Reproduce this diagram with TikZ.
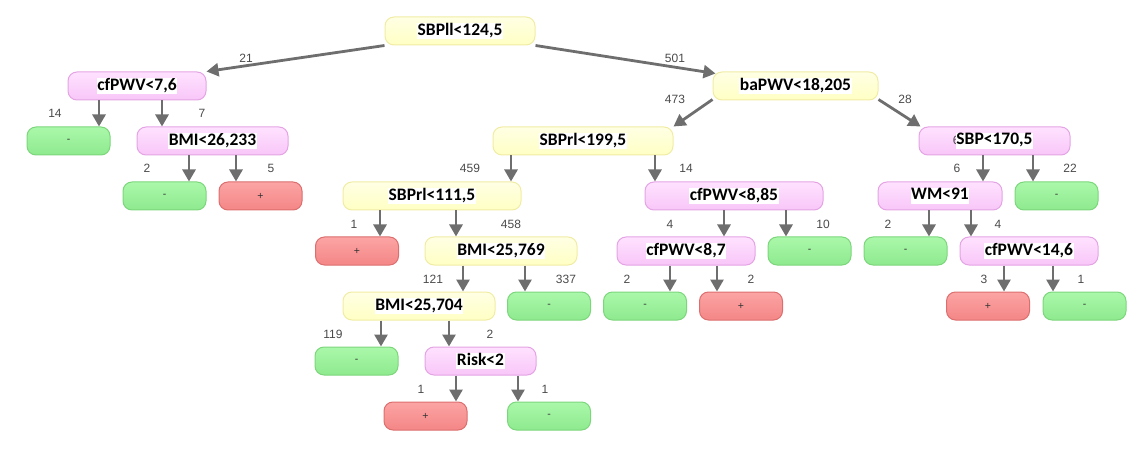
\documentclass[tikz,border=0pt]{standalone}
\usepackage{fontspec}
\usetikzlibrary{arrows.meta}
\newfontfamily\boxfont{Carlito}
\newfontfamily\labfont{Liberation Sans}
\definecolor{ytop}{HTML}{FFFFE4}
\definecolor{ybot}{HTML}{FFFFC4}
\definecolor{ybord}{HTML}{F0ECA4}
\definecolor{ptop}{HTML}{FFE2FF}
\definecolor{pbot}{HTML}{F8C6F8}
\definecolor{pbord}{HTML}{E4A4E4}
\definecolor{gtop}{HTML}{AAF8AA}
\definecolor{gbot}{HTML}{8EEA8E}
\definecolor{gbord}{HTML}{7CD67C}
\definecolor{rtop}{HTML}{FCA4A4}
\definecolor{rbot}{HTML}{F48686}
\definecolor{rbord}{HTML}{DC6E6E}
\definecolor{arrgray}{HTML}{6E6E6E}
\definecolor{labgray}{HTML}{4A4A4A}
\newcommand\wtext[1]{{\setlength{\fboxsep}{0.5pt}\colorbox{white}{\rule[-3.5pt]{0pt}{15pt}\boxfont\bfseries\fontsize{17.5}{18}\selectfont #1}}}
\newcommand\hid[1]{\makebox[0pt][r]{\labfont\fontsize{12}{13}\selectfont\color{labgray}#1\hspace{-3.5pt}}}
\tikzset{
  box/.style={rounded corners=9pt, minimum height=28pt, inner sep=0pt, line width=1pt, shading angle=0},
  ybox/.style={box, draw=ybord, top color=ytop, bottom color=ybot},
  pbox/.style={box, draw=pbord, top color=ptop, bottom color=pbot},
  gleaf/.style={box, draw=gbord, top color=gtop, bottom color=gbot, minimum width=83pt, font=\labfont\fontsize{10.5}{11}\selectfont, text=black!80},
  rleaf/.style={box, draw=rbord, top color=rtop, bottom color=rbot, minimum width=83pt, font=\labfont\fontsize{10.5}{11}\selectfont, text=black!80},
  lab/.style={font=\labfont\fontsize{12}{13}\selectfont, text=labgray, inner sep=0pt},
  arr/.style={draw=arrgray, line width=2.8pt, -{Triangle[length=12pt,width=13pt]}}
}
\begin{document}
\begin{tikzpicture}[x=1pt,y=-1pt]
\useasboundingbox (0,0) rectangle (1135,449);
% row 1
\node[ybox, minimum width=150pt] (root) at (460,31) {\wtext{SBPll<124,5}};
% row 2
\node[pbox, minimum width=138pt] (n1) at (137,86) {\wtext{cfPWV<7,6}};
\node[ybox, minimum width=165pt] (n2) at (795.5,86) {\wtext{baPWV<18,205}};
% row 3
\node[gleaf] (l1) at (68.5,141) {-};
\node[pbox, minimum width=151pt] (n3) at (212.5,141) {\wtext{BMI<26,233}};
\node[ybox, minimum width=180pt] (n4) at (583,141) {\wtext{SBPrl<199,5}};
\node[pbox, minimum width=151pt] (n5) at (994.5,141) {\hid{6}\wtext{SBP<170,5}};
% row 4
\node[gleaf] (l2) at (164.5,196) {-};
\node[rleaf] (l3) at (260.5,196) {+};
\node[ybox, minimum width=178pt] (n6) at (432,196) {\wtext{SBPrl<111,5}};
\node[pbox, minimum width=178pt] (n7) at (734,196) {\wtext{cfPWV<8,85}};
\node[pbox, minimum width=124pt] (n8) at (940,196) {\wtext{WM<91}};
\node[gleaf] (l4) at (1056.5,196) {-};
% row 5
\node[rleaf] (l5) at (357,251) {+};
\node[ybox, minimum width=152pt] (n9) at (501,251) {\wtext{BMI<25,769}};
\node[pbox, minimum width=138pt] (n10) at (686,251) {\wtext{cfPWV<8,7}};
\node[gleaf] (l6) at (809.5,251) {-};
\node[gleaf] (l7) at (905.5,251) {-};
\node[pbox, minimum width=138pt] (n11) at (1029,251) {\wtext{cfPWV<14,6}};
% row 6
\node[ybox, minimum width=152pt] (n12) at (419,306) {\wtext{BMI<25,704}};
\node[gleaf] (l8) at (549,306) {-};
\node[gleaf] (l9) at (645,306) {-};
\node[rleaf] (l10) at (741,306) {+};
\node[rleaf] (l11) at (988,306) {+};
\node[gleaf] (l12) at (1084.5,306) {-};
% row 7
\node[gleaf] (l13) at (356.5,361) {-};
\node[pbox, minimum width=111pt] (n13) at (480.5,361) {\wtext{Risk<2}};
% row 8
\node[rleaf] (l14) at (425.5,416) {+};
\node[gleaf] (l15) at (549,416) {-};

% diagonal connectors
\draw[arr] (root.south west) -- (n1.north east);
\draw[arr] (root.south east) -- ([xshift=3pt,yshift=-2pt]n2.north west);
\draw[arr] ([yshift=1pt]n2.south west) -- (n4.north east);
\draw[arr] ([yshift=1pt]n2.south east) -- ([xshift=2pt]n5.north west);
% vertical connectors
\draw[arr] (n1.south -| 99,0) -- (l1.north -| 99,0);
\draw[arr] (n1.south -| 162,0) -- (n3.north -| 162,0);
\draw[arr] (n3.south -| 189,0) -- (l2.north -| 189,0);
\draw[arr] (n3.south -| 236,0) -- (l3.north -| 236,0);
\draw[arr] (n4.south -| 511,0) -- (n6.north -| 511,0);
\draw[arr] (n4.south -| 655,0) -- (n7.north -| 655,0);
\draw[arr] (n5.south -| 983,0) -- (n8.north -| 983,0);
\draw[arr] (n5.south -| 1033,0) -- (l4.north -| 1033,0);
\draw[arr] (n6.south -| 380,0) -- (l5.north -| 380,0);
\draw[arr] (n6.south -| 456,0) -- (n9.north -| 456,0);
\draw[arr] (n7.south -| 724,0) -- (n10.north -| 724,0);
\draw[arr] (n7.south -| 786,0) -- (l6.north -| 786,0);
\draw[arr] (n8.south -| 929,0) -- (l7.north -| 929,0);
\draw[arr] (n8.south -| 971,0) -- (n11.north -| 971,0);
\draw[arr] (n9.south -| 463,0) -- (n12.north -| 463,0);
\draw[arr] (n9.south -| 525,0) -- (l8.north -| 525,0);
\draw[arr] (n10.south -| 670,0) -- (l9.north -| 670,0);
\draw[arr] (n10.south -| 717,0) -- (l10.north -| 717,0);
\draw[arr] (n11.south -| 1004,0) -- (l11.north -| 1004,0);
\draw[arr] (n11.south -| 1053,0) -- (l12.north -| 1053,0);
\draw[arr] (n12.south -| 381,0) -- (l13.north -| 381,0);
\draw[arr] (n12.south -| 449,0) -- (n13.north -| 449,0);
\draw[arr] (n13.south -| 456,0) -- (l14.north -| 456,0);
\draw[arr] (n13.south -| 518,0) -- (l15.north -| 518,0);

% counts
\node[lab] (c1) at (246,58) {21};
\node[lab] (c2) at (675,58) {501};
\node[lab] (c3) at (675,99) {473};
\node[lab] (c4) at (905,99) {28};
\node[lab] (c5) at (55,113) {14};
\node[lab] (c6) at (202,113) {7};
\node[lab] (c7) at (147,168) {2};
\node[lab] (c8) at (271,168) {5};
\node[lab] (c9) at (470,168) {459};
\node[lab] (c10) at (686,168) {14};
\node[lab] (c11) at (957,168) {6};
\node[lab] (c12) at (1070,168) {22};
\node[lab] (c13) at (354,224) {1};
\node[lab] (c14) at (511,224) {458};
\node[lab] (c15) at (670,224) {4};
\node[lab] (c16) at (823,224) {10};
\node[lab] (c17) at (888,224) {2};
\node[lab] (c18) at (998,224) {4};
\node[lab] (c19) at (433,279) {121};
\node[lab] (c20) at (566,279) {337};
\node[lab] (c21) at (627,279) {2};
\node[lab] (c22) at (751,279) {2};
\node[lab] (c23) at (984,279) {3};
\node[lab] (c24) at (1081,279) {1};
\node[lab] (c25) at (333,334) {119};
\node[lab] (c26) at (490,334) {2};
\node[lab] (c27) at (421,389) {1};
\node[lab] (c28) at (545,389) {1};
\end{tikzpicture}
\end{document}
